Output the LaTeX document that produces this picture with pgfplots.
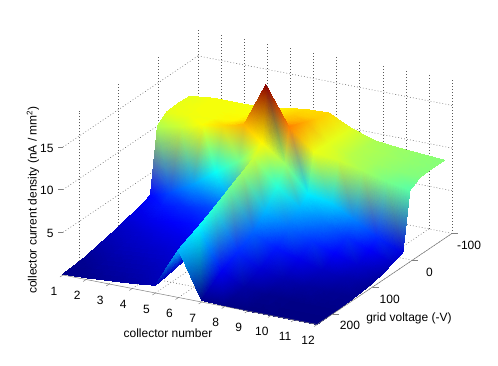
\documentclass[border=0pt]{standalone}
\usepackage{fontspec}
\setmainfont{Liberation Sans}
\usepackage{pgfplots}
\usepackage{pgfplotstable}
\pgfplotsset{compat=1.18}
\usepgfplotslibrary{patchplots}
\usetikzlibrary{calc}
\pgfplotsset{
  /pgf/declare function={
    jr(\t)=max(0,min(1,min(4*\t-1.5,-4*\t+4.5)));
    jg(\t)=max(0,min(1,min(4*\t-0.5,-4*\t+3.5)));
    jb(\t)=max(0,min(1,min(4*\t+0.5,-4*\t+2.5)));
  }
}
\pgfplotstableread{
x y z
1 -80 10.9
2 -80 11.2
3 -80 11.2
4 -80 11.2
5 -80 11.6
6 -80 12.0
7 -80 12.1
8 -80 10.8
9 -80 9.9
10 -80 9.6
11 -80 9.4
12 -80 9.2
1 -50 11.0
2 -50 11.2
3 -50 11.2
4 -50 11.3
5 -50 11.8
6 -50 12.3
7 -50 12.3
8 -50 10.9
9 -50 10.0
10 -50 9.7
11 -50 9.4
12 -50 9.2
1 -21 10.9
2 -20 11.1
3 -20 11.2
4 -20 11.5
5 -20 12.2
6 -20 12.6
7 -20 12.9
8 -20 10.9
9 -20 10.1
10 -20 9.7
11 -20 9.3
12 -19 9.1
1 2 10.0
2 3 10.5
3 5 11.3
4 13 12.0
5 17 12.7
6 20 18.0
7 20 13.6
8 15 11.0
9 12 10.5
10 10 9.8
11 8 9.0
12 6 8.4
1 20 2.4
2 30 3.5
3 30 5.0
4 30 7.0
5 30 8.8
6 30 11.5
7 30 9.5
8 30 6.5
9 30 6.0
10 30 4.5
11 30 3.0
12 24 1.6
1 50 1.9
2 50 2.6
3 50 3.0
4 50 3.5
5 50 4.5
6 50 10.4
7 50 7.5
8 50 5.5
9 50 4.5
10 50 3.2
11 50 2.2
12 50 1.2
1 80 1.5
2 80 1.9
3 80 2.2
4 80 2.5
5 80 3.2
6 80 9.6
7 80 5.5
8 80 4.2
9 80 3.2
10 80 2.2
11 80 1.4
12 80 0.7
1 110 1.1
2 110 1.4
3 110 1.7
4 110 1.9
5 110 2.4
6 110 8.8
7 110 4.0
8 110 2.7
9 110 1.9
10 110 1.2
11 110 0.8
12 110 0.4
1 150 0.7
2 150 1.0
3 150 1.2
4 150 1.4
5 150 1.8
6 150 7.7
7 150 3.0
8 150 1.5
9 150 0.8
10 150 0.5
11 150 0.3
12 150 0.2
1 190 0.3
2 190 0.6
3 190 0.8
4 190 1.0
5 190 1.3
6 190 6.7
7 190 2.0
8 190 0.6
9 190 0.2
10 190 0.1
11 190 0.1
12 190 0.1
1 240 0.1
2 240 0.2
3 240 0.4
4 240 0.6
5 240 0.9
6 240 5.6
7 240 0.2
8 240 0.1
9 240 0.0
10 240 0.0
11 240 0.0
12 240 0.0
}\surfdata
% each vertex of the surface, from the table above, as a coordinate
\pgfplotstableforeachcolumnelement{x}\of\surfdata\as\cell{%
  \expandafter\xdef\csname vx\pgfplotstablerow\endcsname{\cell}}
\pgfplotstableforeachcolumnelement{y}\of\surfdata\as\cell{%
  \expandafter\xdef\csname vy\pgfplotstablerow\endcsname{\cell}}
\pgfplotstableforeachcolumnelement{z}\of\surfdata\as\cell{%
  \expandafter\xdef\csname vz\pgfplotstablerow\endcsname{\cell}}
\def\V#1{(\csname vx#1\endcsname,\csname vy#1\endcsname,\csname vz#1\endcsname) }
\gdef\tricoords{}
\foreach \j in {0,...,9}{\foreach \i in {0,...,10}{%
  \pgfmathtruncatemacro\a{\j*12+\i}%
  \pgfmathtruncatemacro\b{\a+1}%
  \pgfmathtruncatemacro\c{\a+13}%
  \pgfmathtruncatemacro\d{\a+12}%
  \xdef\tricoords{\unexpanded\expandafter{\tricoords}\V\a\V\b\V\c\V\a\V\c\V\d}%
}}
\def\drawsurface#1{%
\addplot3[patch, patch type=triangle, shader=interp, z buffer=none,
  mesh/color input=explicit mathparse,
  point meta={symbolic={jr(z/18.2),jg(z/18.2),jb(z/18.2)}},
] coordinates {#1};}
\begin{document}
\begin{tikzpicture}
\begin{axis}[
  disabledatascaling,
  x={(23.1pt,-4.5pt)}, y={(0.397pt,0.268pt)}, z={(0pt,8.53pt)}, y dir=reverse,
  xmin=1,xmax=12,ymin=-100,ymax=240,zmin=0,zmax=18,
  xtick={1,...,12}, ytick={-100,0,100,200}, ztick={5,10,15},
  xticklabels={}, yticklabels={}, zticklabels={},
  major tick length=0pt,
  xmajorgrids,ymajorgrids,zmajorgrids,
  grid style={dash pattern=on 0.8pt off 2.2pt, black!65, line width=0.5pt},
  axis line style={draw=none},
  clip=false,
  execute at end axis={
    \coordinate (O) at (axis cs:1,240,0);
  },
]
\expandafter\drawsurface\expandafter{\tricoords}
\draw[gray, line width=0.5pt] (axis cs:1,240,0) -- (axis cs:12,240,0) -- (axis cs:12,-100,0);
\pgfplotsinvokeforeach{1,...,12}{
  \draw[gray, line width=0.5pt] (axis cs:#1,240,0) -- ++(-3pt,-2pt);
  \node[anchor=center, font=\fontsize{12}{14}\selectfont] at ($(axis cs:#1,240,0)+(-9pt,-16pt)$) {#1};
}
\pgfplotsinvokeforeach{-100,0,100,200}{
  \draw[gray, line width=0.5pt] (axis cs:12,#1,0) -- ++(6pt,0pt);
  \node[anchor=center, font=\fontsize{12}{14}\selectfont] at ($(axis cs:12,#1,0)+(17pt,-12pt)$) {#1};
}
\pgfplotsinvokeforeach{5,10,15}{
  \draw[gray, line width=0.5pt] (axis cs:1,240,#1) -- ++(-5pt,0pt);
  \node[anchor=east, font=\fontsize{12}{14}\selectfont] at ($(axis cs:1,240,#1)+(-6pt,-1pt)$) {#1};
}
\end{axis}
\pgfresetboundingbox
\useasboundingbox ($(O)+(-63pt,-91pt)$) rectangle ($(O)+(435pt,275pt)$);
\node[font=\fontsize{12}{14}\selectfont] at ($(O)+(105pt,-58pt)$) {collector number};
\node[font=\fontsize{12}{14}\selectfont] at ($(O)+(346pt,-43pt)$) {grid voltage (-V)};
\node[font=\fontsize{12}{14}\selectfont, rotate=90] at ($(O)+(-30pt,75pt)$) {collector current density (nA / mm\textsuperscript{2})};
\end{tikzpicture}
\end{document}
